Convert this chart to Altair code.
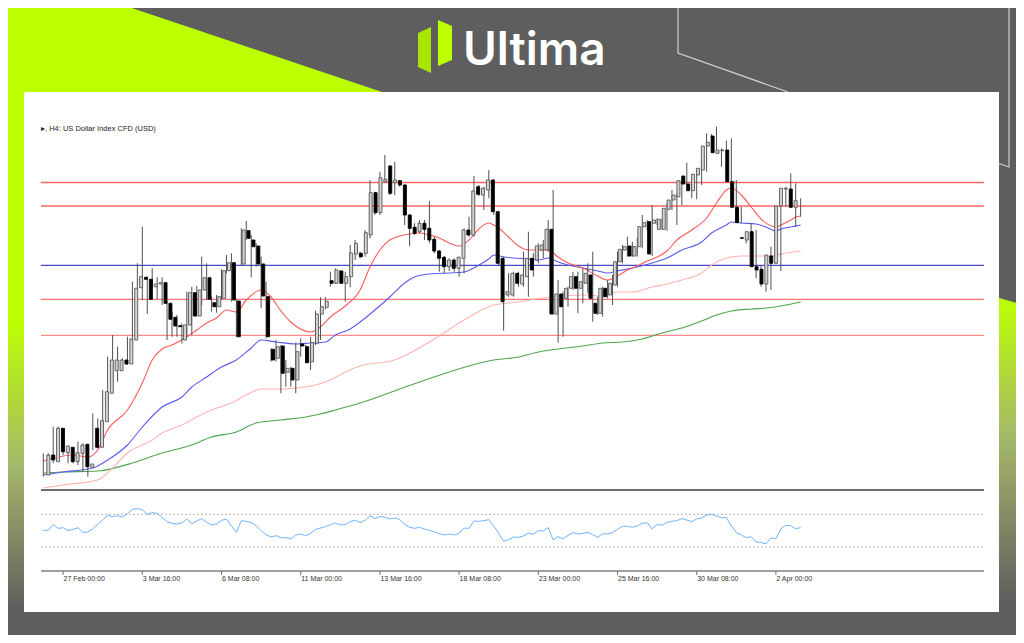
import altair as alt
import pandas as pd

# ---------------- chart values (price in chart points, bar = H4 bar index) ----------------
OPEN = [25, 45, 38.3, 71.7, 47.3, 52.7, 38.3, 46.7, 55.7, 32.7,
        71.7, 52.7, 78.3, 106.7, 129.3, 129.3, 140, 136, 160, 212.3,
        222.7, 220.7, 213.3, 216, 217.3, 196.7, 182.7, 174.3, 160, 175,
        207.3, 184, 210, 222.3, 197.3, 193.3, 201.7, 229.3, 237.3, 199,
        236, 269.3, 260, 254, 236, 203.3, 150.7, 141.7, 154, 127.7,
        131.7, 120, 156, 153.3, 138.3, 156.7, 186, 192.7, 219.3, 216.7,
        229, 216.7, 223.3, 246, 246.7, 246.7, 265, 307.3, 287.3, 318.3,
        334, 317.3, 319.3, 315, 285, 272.7, 268.3, 276.7, 271.7, 260.7,
        249, 242.7, 233.3, 240, 231.7, 241.7, 270, 265, 313.3, 305,
        310, 320, 288.3, 241.7, 205, 205, 226.7, 216, 223.3, 241.7,
        240, 250, 250, 270.7, 186, 206, 201.7, 211.7, 223.3, 211.7,
        216.7, 225, 196.7, 186.7, 211.7, 205, 215, 238.3, 250, 254,
        244, 253.3, 273.3, 278.3, 276.7, 270.7, 270.7, 290.7, 300, 303.3,
        324, 316, 309.3, 325, 330, 354, 364, 346.7, 349.3, 350,
        318.3, 292.7, 262.3, 260, 268.3, 233.3, 230.7, 216, 244, 236.7,
        294, 311, 311, 292.7]
HIGH = [46.7, 46.7, 73.3, 73.3, 55, 54, 50, 58.3, 56.7, 38.3,
        86.7, 81.7, 110, 143.3, 165, 153.3, 141.7, 163.3, 218.3, 236.7,
        273.3, 223.3, 231.7, 222.7, 222.7, 198.3, 188.3, 185, 176.7, 208.3,
        213.3, 214, 243.3, 236.7, 203.3, 205, 230.7, 245, 246.7, 200.7,
        271.7, 279, 265, 256.7, 243.3, 218.3, 151.7, 160, 155, 140,
        133.3, 157.3, 161.7, 155, 163.3, 189.3, 202.7, 202.7, 228.3, 231.7,
        230, 228.3, 255, 260, 248.3, 270, 320, 308.3, 328.3, 345,
        335, 338.3, 320, 316, 286, 276.7, 280, 280, 299, 263.3,
        250, 244, 241.7, 241.7, 243.3, 271.7, 283.3, 324, 315, 313.3,
        330, 320.7, 289.3, 243.3, 226.7, 228.3, 228.3, 248.3, 268.3, 246.7,
        256.7, 260, 280, 310, 220, 208.3, 213.3, 228.3, 228.3, 231.7,
        236.7, 248.3, 203.3, 213.3, 220, 225, 248.3, 255, 263.3, 258.3,
        262.7, 285, 280, 295, 281.7, 281.7, 296.7, 310, 306.7, 320.7,
        337.3, 318.3, 327.3, 340, 366.7, 366, 373.3, 351.7, 359.3, 361.7,
        320, 293.3, 265, 276.7, 270, 234, 231.7, 253.3, 246, 301.7,
        313.3, 326.7, 316.7, 301.7]
LOW = [23.3, 25, 36.7, 46.7, 45, 36.7, 36.7, 35, 28.3, 23.3,
       50, 51.7, 76.7, 93.3, 118.3, 118.3, 133.3, 135, 155, 210,
       200, 186, 211.7, 200.7, 195, 160, 163.3, 163.3, 156.7, 163.3,
       165, 183.3, 194.7, 200, 188.3, 187.3, 200, 226.7, 198.3, 162.7,
       235, 260, 222.7, 233.3, 191.7, 161.7, 138.3, 138.3, 106.7, 113.3,
       113.3, 106.7, 143.3, 136.7, 130, 155, 160, 190.7, 213.3, 216,
       216, 198.3, 212.7, 240, 241.7, 243.3, 261.7, 285, 285, 318.3,
       305, 305, 313.3, 275, 254, 265, 266.7, 260, 256.7, 246.7,
       228.3, 226.7, 229, 228.3, 223.3, 226.7, 263.3, 263.3, 304, 290,
       301.7, 285, 235, 169.3, 203.3, 203.3, 213.3, 213.3, 203.3, 223.3,
       236.7, 241.7, 248.3, 185, 157.3, 163.3, 193.3, 210, 186.7, 196.7,
       206.7, 178.3, 185, 183.3, 201.7, 195, 213.3, 236.7, 243.3, 243.3,
       243.3, 251.7, 270, 244, 275, 270, 269.3, 290, 275, 295,
       315, 301.7, 300.7, 315, 328.3, 352.7, 346.7, 333.3, 348.3, 311.7,
       278.3, 276.7, 256.7, 258.3, 221.7, 213.3, 208.3, 210, 236, 229,
       293.3, 310, 273.3, 283.3]
CLOSE = [45, 40, 71.7, 48.3, 54, 38.3, 47.3, 55, 33.3, 36,
         52.7, 79.3, 108.3, 140, 140, 140, 136, 161, 211.7, 223.3,
         220.7, 200.7, 216, 217.3, 196.7, 180.7, 174, 173.3, 175, 207.3,
         184, 210, 222.3, 200.7, 193.3, 203.3, 229.3, 237.3, 200, 163.3,
         270, 261.7, 253.3, 236, 204, 163.3, 140, 153.3, 126.7, 131.7,
         120, 148.3, 154, 137.3, 157.3, 186, 193.3, 198.7, 216.7, 230,
         216.7, 223.3, 247, 256.7, 243.3, 267.3, 307.3, 287.3, 322.3, 320.7,
         306.7, 320, 315, 285, 271.7, 266.7, 276.7, 270.7, 260, 249,
         241.7, 233.3, 240, 231.7, 242.7, 270, 265, 309, 305.7, 311.7,
         320, 288.3, 236.7, 198.3, 208.3, 226.7, 216.7, 225, 241.7, 230,
         254, 255, 270.7, 186, 206, 193.3, 211.7, 223.3, 211.7, 218.3,
         226.7, 201.7, 186.7, 211.7, 203.3, 216.7, 238.3, 250.7, 253.3, 244,
         253.3, 273.3, 277.3, 246, 280, 280.7, 291.7, 300, 305, 319.3,
         316, 309.3, 325.7, 331.7, 354, 357.7, 347.3, 350, 350, 318.3,
         292.7, 277.3, 261.7, 268.3, 233.3, 230, 216, 245, 236.7, 294,
         311.7, 311.7, 292.7, 299.3]

RSI = [50.0, 50.8, 57.7, 52.8, 53.6, 50.0, 51.6, 53.6, 47.9, 48.4,
       52.4, 57.7, 63.0, 68.7, 67.1, 68.3, 66.7, 70.8, 76.1, 76.9,
       75.7, 70.0, 72.0, 71.2, 66.3, 61.0, 59.0, 58.1, 59.4, 64.3,
       58.6, 61.8, 64.7, 60.2, 56.9, 58.1, 62.6, 64.3, 56.1, 47.9,
       62.2, 61.4, 59.8, 56.1, 50.0, 45.1, 42.2, 43.9, 41.4, 41.4,
       39.8, 44.7, 45.9, 43.5, 46.7, 51.6, 53.2, 54.9, 57.3, 59.4,
       56.9, 57.7, 61.0, 63.0, 59.8, 62.6, 68.3, 64.7, 67.5, 66.3,
       64.3, 65.5, 63.9, 57.7, 54.1, 52.8, 54.1, 52.0, 50.4, 48.4,
       46.3, 44.7, 45.9, 44.7, 46.7, 53.2, 52.8, 61.8, 61.4, 62.2,
       63.5, 55.7, 46.7, 36.9, 39.0, 42.2, 41.8, 43.5, 47.1, 45.5,
       50.0, 49.6, 53.7, 38.6, 42.6, 39.8, 44.3, 47.6, 45.9, 46.7,
       47.9, 45.1, 41.8, 46.3, 45.9, 47.6, 51.6, 55.3, 55.3, 54.1,
       55.7, 59.0, 59.8, 52.0, 57.7, 56.5, 60.2, 61.4, 62.2, 64.7,
       63.0, 61.0, 64.3, 65.5, 69.2, 70.0, 67.9, 65.9, 65.9, 55.7,
       47.9, 44.7, 41.4, 42.6, 36.1, 35.7, 33.7, 41.0, 40.2, 52.4,
       56.5, 56.1, 52.4, 53.7]

MA_RED_BARS = [0, 6, 9, 11, 13, 17, 20, 22, 24, 26, 29, 31, 33, 35, 37, 39, 41, 44, 46, 48,
               50, 54, 56, 58, 61, 64, 66, 68, 70, 72, 74, 76, 78, 80, 82, 84, 86, 88, 90, 91,
               92, 94, 96, 98, 100, 102, 104, 106, 109, 112, 114, 116, 118, 120, 122, 124, 126,
               128, 131, 134, 136, 138, 139, 141, 143, 145, 148, 149, 151, 152, 153]
MA_RED = [39, 45, 43, 50, 70, 90, 117, 140, 151, 155, 163, 170, 177, 182, 190, 188, 200, 210, 203, 189,
          178, 168, 173, 183, 194, 210, 233, 250, 260, 264, 266, 267, 265, 262, 257, 254, 260, 271, 277, 275,
          272, 263, 254, 250, 250, 250, 243, 237, 232, 224, 220, 224, 230, 234, 239, 243, 249,
          260, 270, 282, 297, 310, 312, 305, 293, 281, 273, 275, 280, 283, 284]
MA_BLUE_BARS = [0, 4, 10, 13, 17, 20, 24, 28, 30, 33, 36, 39, 42, 44, 47, 51, 54, 57, 59, 62,
                64, 67, 70, 73, 75, 78, 82, 85, 88, 90, 91, 93, 95, 98, 100, 102, 104, 106, 109, 112,
                114, 116, 118, 120, 123, 126, 129, 133, 135, 138, 139, 141, 144, 146, 148, 149, 151, 153]
MA_BLUE = [25, 28, 32, 40, 55, 73, 93, 103, 113, 123, 133, 140, 152, 160, 158, 156, 157, 158, 165, 171,
           178, 190, 203, 217, 223, 226, 227, 228, 235, 241, 245, 243, 242, 241, 240, 242, 238, 235, 232, 229,
           227, 229, 231, 233, 237, 242, 250, 258, 267, 275, 278, 277, 276, 273, 269, 271, 273, 275]
MA_PINK_BARS = [0, 4, 11, 14, 17, 22, 24, 28, 31, 34, 38, 41, 44, 48, 51, 55, 58, 61, 64, 71,
                79, 85, 91, 96, 102, 109, 113, 116, 119, 123, 126, 129, 133, 135, 138, 141, 144, 147, 149, 153]
MA_PINK = [12, 15, 20, 32, 47, 60, 67, 75, 83, 90, 97, 105, 111, 111, 112, 115, 120, 128, 134, 140,
           161, 180, 195, 198, 203, 205, 204, 208, 208, 213, 216, 220, 227, 235, 242, 244, 244, 244, 246, 249]
MA_GREEN_BARS = [0, 4, 11, 18, 21, 24, 30, 34, 39, 43, 48, 53, 56, 59, 64, 76, 91, 96, 100, 104,
                 109, 113, 117, 121, 125, 129, 133, 136, 139, 143, 146, 149, 153]
MA_GREEN = [27, 28, 29, 37, 42, 47, 55, 63, 68, 77, 80, 83, 86, 90, 97, 118, 140, 143, 148, 151,
            154, 157, 158, 161, 167, 172, 179, 185, 189, 191, 192, 194, 198]

LEVELS = [317.5, 294.0, 234.7, 200.7, 164.7]
LEVEL_COLORS = ["#ff6464", "#ff6464", "#4848c8", "#ff7474", "#ff8a8a"]
RSI_LEVELS = [70, 30]
TICK_BARS = [4, 20, 36, 52, 68, 84, 100, 116, 132, 148]
TICK_LABELS = ["27 Feb 00:00", "3 Mar 16:00", "6 Mar 08:00", "11 Mar 00:00", "13 Mar 16:00",
               "18 Mar 08:00", "23 Mar 00:00", "25 Mar 16:00", "30 Mar 08:00", "2 Apr 00:00"]
TITLE = "▸, H4:  US Dollar Index CFD (USD)"
BRAND = "Ultima"

# ---------------- layout (page pixels; the chart starts 8px into the page) ----------------
OFF = 8
W, H = 1008, 627
LIME = "#bcff00"
GRAY = "#5e5e5e"
X0 = 43.3 - OFF
STEP = 4.95

bar_x = alt.Scale(domain=[0, len(OPEN) - 1], range=[X0, X0 + STEP * (len(OPEN) - 1)], nice=False, zero=False)
price_y = alt.Scale(domain=[0, 492], range=[492, 0], nice=False, zero=False)
rsi_y = alt.Scale(domain=[0, 100], range=[571.5 - OFF, 489.8 - OFF], nice=False, zero=False)
pxx = alt.Scale(domain=[OFF, OFF + W], range=[0, W], nice=False, zero=False)
pxy = alt.Scale(domain=[OFF, OFF + H], range=[0, H], nice=False, zero=False)


def grad(stops):
    return alt.LinearGradient(gradient="linear", x1=0, x2=0, y1=0, y2=1,
                              stops=[alt.GradientStop(color=c, offset=o) for o, c in stops])


def PX(f):
    return alt.X(f, scale=pxx, axis=None)


def PY(f):
    return alt.Y(f, scale=pxy, axis=None)


layers = []

# frame decoration
layers.append(alt.Chart(pd.DataFrame({"x": [0], "x2": [24], "y": [0], "y2": [643]})).mark_rect(
    fill=grad([(0, LIME), (0.5, LIME), (0.72, "#a6b86a"), (0.95, GRAY), (1, GRAY)])
).encode(x=PX("x:Q"), x2="x2:Q", y=PY("y:Q"), y2="y2:Q"))

layers.append(alt.Chart(pd.DataFrame({"x": [0, 108, 382], "y": [0, 0, 92], "y2": [92, 92, 92]})).mark_area(
    color=LIME).encode(x=PX("x:Q"), y=PY("y:Q"), y2="y2:Q"))

layers.append(alt.Chart(pd.DataFrame({"x": [999, 1024], "y": [298, 305], "y2": [643, 643]})).mark_area(
    fill=grad([(0, LIME), (0.4, "#a6b86a"), (0.88, GRAY), (1, GRAY)])).encode(x=PX("x:Q"), y=PY("y:Q"), y2="y2:Q"))

outline = pd.DataFrame({"x": [678, 678, 788, 1009, 1009, 999],
                        "y": [0, 53, 92, 0, 167, 163.5],
                        "g": ["a", "a", "a", "b", "b", "b"],
                        "o": [0, 1, 2, 0, 1, 2]})
layers.append(alt.Chart(outline).mark_line(color="#cfcfcf", strokeWidth=1.2).encode(
    x=PX("x:Q"), y=PY("y:Q"), detail="g:N", order="o:Q"))

layers.append(alt.Chart(pd.DataFrame({"x": [24], "x2": [999], "y": [92], "y2": [612]})).mark_rect(
    color="#ffffff").encode(x=PX("x:Q"), x2="x2:Q", y=PY("y:Q"), y2="y2:Q"))

# logo
layers.append(alt.Chart(pd.DataFrame({"x": [418, 431], "y": [33, 27], "y2": [67, 73]})).mark_area(
    color="#a8e600").encode(x=PX("x:Q"), y=PY("y:Q"), y2="y2:Q"))
layers.append(alt.Chart(pd.DataFrame({"x": [438, 452], "y": [20, 26], "y2": [66, 60]})).mark_area(
    color=LIME).encode(x=PX("x:Q"), y=PY("y:Q"), y2="y2:Q"))
layers.append(alt.Chart(pd.DataFrame({"t": [BRAND]})).mark_text(
    font="Inter", fontSize=46, fontWeight=600, color="#ffffff", align="left", baseline="alphabetic"
).encode(x=alt.value(463 - OFF), y=alt.value(64.5 - OFF), text="t:N"))

# chart title
layers.append(alt.Chart(pd.DataFrame({"t": [TITLE]})).mark_text(
    font="Liberation Sans", fontSize=7.5, color="#222222", align="left", baseline="middle"
).encode(x=alt.value(41 - OFF), y=alt.value(129 - OFF), text="t:N"))

# horizontal levels
lv = pd.DataFrame({"v": LEVELS, "c": LEVEL_COLORS})
layers.append(alt.Chart(lv).mark_rule(strokeWidth=1.3).encode(
    y=alt.Y("v:Q", scale=price_y, axis=None), x=alt.value(41 - OFF), x2=alt.value(984 - OFF),
    color=alt.Color("c:N", scale=None)))

# moving averages
for bars_, vals, col, wdt in [(MA_GREEN_BARS, MA_GREEN, "#4ea64e", 1.1),
                              (MA_PINK_BARS, MA_PINK, "#ffb4b4", 1.1),
                              (MA_BLUE_BARS, MA_BLUE, "#5a5af0", 1.1),
                              (MA_RED_BARS, MA_RED, "#ff5a5a", 1.1)]:
    layers.append(alt.Chart(pd.DataFrame({"bar": bars_, "v": vals})).mark_line(
        color=col, strokeWidth=wdt, interpolate="monotone").encode(
        x=alt.X("bar:Q", scale=bar_x, axis=None), y=alt.Y("v:Q", scale=price_y, axis=None)))

# candles
cdf = pd.DataFrame({"bar": list(range(len(OPEN))), "o": OPEN, "h": HIGH, "l": LOW, "c": CLOSE})
cdf["top"] = cdf[["o", "c"]].max(axis=1)
cdf["bot"] = cdf[["o", "c"]].min(axis=1)
cdf["d"] = ["up" if c >= o else "down" for o, c in zip(cdf["o"], cdf["c"])]
layers.append(alt.Chart(cdf).mark_rule(strokeWidth=1, color="#505050").encode(
    x=alt.X("bar:Q", scale=bar_x, axis=None), y=alt.Y("l:Q", scale=price_y, axis=None), y2="h:Q"))
layers.append(alt.Chart(cdf).mark_bar(size=3, strokeWidth=0.9).encode(
    x=alt.X("bar:Q", scale=bar_x, axis=None), y=alt.Y("bot:Q", scale=price_y, axis=None), y2="top:Q",
    fill=alt.Fill("d:N", scale=alt.Scale(domain=["up", "down"], range=["#d4d4d4", "#000000"]), legend=None),
    stroke=alt.Stroke("d:N", scale=alt.Scale(domain=["up", "down"], range=["#555555", "#000000"]), legend=None)))

# separators, axis, ticks and labels
one = pd.DataFrame({"a": [0]})
layers.append(alt.Chart(one).mark_rule(color="#707070", strokeWidth=2).encode(
    y=alt.value(490 - OFF), x=alt.value(41 - OFF), x2=alt.value(984 - OFF)))
layers.append(alt.Chart(one).mark_rule(color="#808080", strokeWidth=1.5).encode(
    y=alt.value(571 - OFF), x=alt.value(41 - OFF), x2=alt.value(984 - OFF)))
tk = pd.DataFrame({"bar": TICK_BARS, "lab": TICK_LABELS})
layers.append(alt.Chart(tk).mark_rule(color="#707070", strokeWidth=1).encode(
    x=alt.X("bar:Q", scale=bar_x, axis=None), y=alt.value(571 - OFF), y2=alt.value(575 - OFF)))
layers.append(alt.Chart(tk).mark_text(font="Liberation Sans", fontSize=7, color="#333333",
                                      align="left", baseline="middle", dx=0.5).encode(
    x=alt.X("bar:Q", scale=bar_x, axis=None), y=alt.value(579 - OFF), text="lab:N"))

# RSI panel
layers.append(alt.Chart(pd.DataFrame({"r": RSI_LEVELS})).mark_rule(
    color="#b4b4b4", strokeWidth=1, strokeDash=[2, 2]).encode(
    y=alt.Y("r:Q", scale=rsi_y, axis=None), x=alt.value(41 - OFF), x2=alt.value(984 - OFF)))
layers.append(alt.Chart(pd.DataFrame({"bar": list(range(len(RSI))), "r": RSI})).mark_line(
    color="#6eb4ff", strokeWidth=1).encode(
    x=alt.X("bar:Q", scale=bar_x, axis=None), y=alt.Y("r:Q", scale=rsi_y, axis=None)))

chart = alt.layer(*layers).resolve_scale(x="independent", y="independent").properties(
    width=W, height=H, padding=0, background=GRAY,
    autosize=alt.AutoSizeParams(type="none")
).configure_view(strokeWidth=0)

chart.save("out.html", embed_options={"renderer": "svg", "actions": False})
